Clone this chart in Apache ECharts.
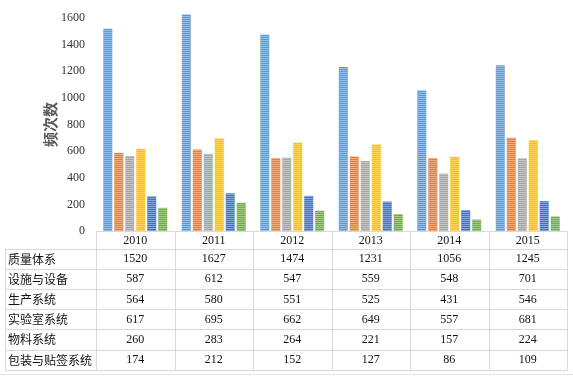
<!DOCTYPE html>
<html><head><meta charset="utf-8">
<script src="https://cdn.jsdelivr.net/npm/echarts@6/dist/echarts.min.js"></script>
<style>html,body{margin:0;padding:0;background:#fff}#c{width:573px;height:378px}</style>
</head><body><div id="c"></div>
<script>
var years = ['2010','2011','2012','2013','2014','2015'];
var seriesNames = ['质量体系','设施与设备','生产系统','实验室系统','物料系统','包装与贴签系统'];
var s1 = [1520,1627,1474,1231,1056,1245];
var s2 = [587,612,547,559,548,701];
var s3 = [564,580,551,525,431,546];
var s4 = [617,695,662,649,557,681];
var s5 = [260,283,264,221,157,224];
var s6 = [174,212,152,127,86,109];
var yTicks = [0,200,400,600,800,1000,1200,1400,1600];
var allSeries = [s1,s2,s3,s4,s5,s6];
var colors = ['#5B9BD5','#ED7D31','#A5A5A5','#FFC000','#4472C4','#70AD47'];

var chart = echarts.init(document.getElementById('c'));
var serif = '"Liberation Serif","DejaVu Serif",serif';
var cjk = '"Noto Sans CJK SC","Liberation Serif",sans-serif';

var series = allSeries.map(function(d,i){
  return {
    name: seriesNames[i], type:'bar', data:d, barWidth:9, barGap:'22%', clip:false,
    itemStyle:{color:colors[i],
      decal:{symbol:'rect',symbolSize:1,dashArrayX:[1,0],dashArrayY:[1,1],color:'rgba(255,255,255,0.35)'}},
    silent:true, animation:false
  };
});

chart.setOption({
  animation:false,
  grid:{left:96,right:6,top:18,bottom:147,containLabel:false},
  xAxis:{type:'category',data:years,axisLine:{show:false},axisTick:{show:false},axisLabel:{show:false}},
  yAxis:{type:'value',min:yTicks[0],max:yTicks[yTicks.length-1],interval:200,
    splitLine:{show:false},axisLine:{show:false},axisTick:{show:false},
    axisLabel:{margin:11,color:'#333',fontFamily:serif,fontSize:12,formatter:function(v){return String(v);}},
    name:'频次数',nameLocation:'middle',nameGap:38,nameRotate:90,nameMoveOverlap:false,
    nameTextStyle:{color:'#595959',fontFamily:cjk,fontSize:15,fontWeight:'bold'}},
  series:series
});

function buildTable(){
  var cx = years.map(function(y){return chart.convertToPixel({xAxisIndex:0},y);});
  var bw = cx.length>1 ? cx[1]-cx[0] : 78;
  var left = cx[0]-bw/2, right = cx[cx.length-1]+bw/2;
  var y0 = chart.convertToPixel({yAxisIndex:0},0);
  var headTop = Math.round(y0)+0.5, headBot = headTop+17;
  var rowH = 20.2;
  var lineC = '#d9d9d9';
  var els = [];
  function hline(x1,x2,y){els.push({type:'line',shape:{x1:x1,y1:y,x2:x2,y2:y},style:{stroke:lineC,lineWidth:1},silent:true});}
  function vline(x,y1,y2){els.push({type:'line',shape:{x1:x,y1:y1,x2:x,y2:y2},style:{stroke:lineC,lineWidth:1},silent:true});}
  var tableLeft = 5.5;
  var bottom = headBot + rowH*seriesNames.length;
  hline(left,right,headTop);
  for(var r=0;r<=seriesNames.length;r++){ hline(tableLeft,right,Math.round(headBot+rowH*r)+0.5); }
  vline(tableLeft,headBot,Math.round(bottom)+0.5);
  for(var k=0;k<=years.length;k++){ vline(Math.round(left+bw*k)+0.5,headTop,Math.round(bottom)+0.5); }
  years.forEach(function(y,j){
    els.push({type:'text',x:cx[j],y:(headTop+headBot)/2+1,style:{text:y,align:'center',verticalAlign:'middle',fill:'#111',font:'12px '+serif},silent:true});
  });
  seriesNames.forEach(function(n,r){
    var yc = headBot+rowH*r+rowH/2+0.5;
    els.push({type:'text',x:8,y:yc,style:{text:n,align:'left',verticalAlign:'middle',fill:'#111',font:'12px '+cjk},silent:true});
    allSeries[r].forEach(function(v,j){
      els.push({type:'text',x:cx[j],y:yc,style:{text:String(v),align:'center',verticalAlign:'middle',fill:'#111',font:'12px '+serif},silent:true});
    });
  });
  els.push({type:'line',shape:{x1:0,y1:374.5,x2:573,y2:374.5},style:{stroke:'#e6e6e6',lineWidth:1},silent:true});
  chart.setOption({graphic:{elements:els}});
}
buildTable();
</script>
</body></html>
